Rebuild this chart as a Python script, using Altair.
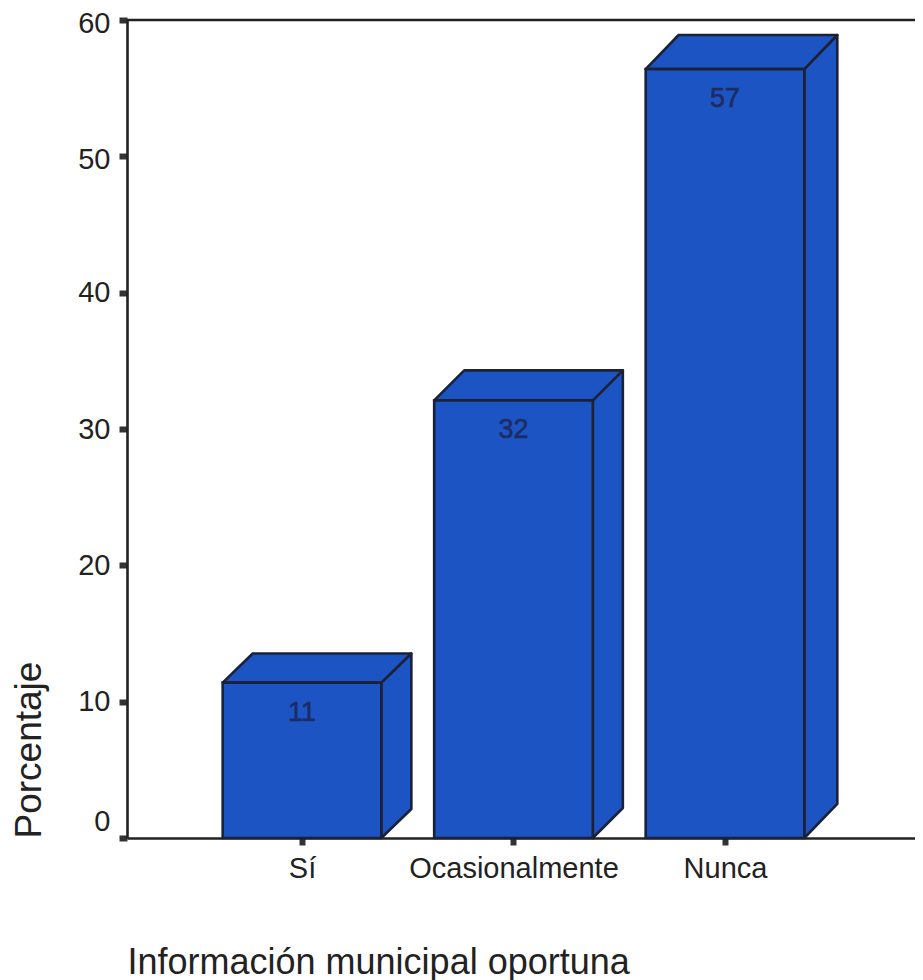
import altair as alt
import pandas as pd

categories = ["Sí", "Ocasionalmente", "Nunca"]
positions = [1, 2, 3]
heights = [11.4, 32.1, 56.4]
labels = ["11", "32", "57"]
y_ticks = [0, 10, 20, 30, 40, 50, 60]

HALF = 0.375
DEPTHS_X = [0.142, 0.142, 0.156]
DEPTHS_Y = [2.13, 2.2, 2.5]
XMIN, XMAX = 0.1726, 3.8984
BLUE = "#1d54c4"
EDGE = "#1b2238"
INK = "#222222"
FONT = "Liberation Sans"

front = pd.DataFrame({
    "l": [p - HALF for p in positions],
    "r": [p + HALF for p in positions],
    "base": [0, 0, 0],
    "h": heights,
})

faces = []
for p, h, dx, dy in zip(positions, heights, DEPTHS_X, DEPTHS_Y):
    l, r = p - HALF, p + HALF
    faces.append(pd.DataFrame({"x": [r, r + dx], "lo": [0, dy], "hi": [h, h + dy]}))
    faces.append(pd.DataFrame({
        "x": [l, l + dx, r, r + dx],
        "lo": [h, h, h, h + dy],
        "hi": [h, h + dy, h + dy, h + dy],
    }))
text_df = pd.DataFrame({"x": positions, "y": heights, "t": labels})
frame = pd.DataFrame({"x": [XMIN], "x2": [XMAX], "y": [60]})

label_expr = "datum.value === 1 ? 'Sí' : datum.value === 2 ? 'Ocasionalmente' : 'Nunca'"
x_scale = alt.Scale(domain=[XMIN, XMAX], nice=False, zero=False)
y_scale = alt.Scale(domain=[0, 60], nice=False)

x_axis = alt.Axis(
    values=positions, labelExpr=label_expr, grid=False, title="Información municipal oportuna",
    titleFont=FONT, titleFontSize=36, titleFontWeight="normal", titleColor=INK,
    titleX=0, titleY=135, titleAlign="left", titleBaseline="alphabetic",
    labelFont=FONT, labelFontSize=29, labelColor=INK, labelPadding=9, labelOverlap=False,
    labelLimit=400, labelFlush=False, tickSize=7, tickWidth=6, tickColor="#333333",
    domainColor=INK, domainWidth=2.6,
)
y_axis = alt.Axis(
    values=y_ticks, grid=False, title="Porcentaje",
    titleFont=FONT, titleFontSize=37, titleFontWeight="normal", titleColor=INK,
    titleAngle=270, titleX=-87, titleY=818, titleAlign="left", titleBaseline="alphabetic",
    labelFont=FONT, labelFontSize=29, labelColor=INK, labelPadding=9,
    labelOffset=alt.expr("datum.value === 0 ? -17 : datum.value >= 50 ? 3 : 0"),
    tickSize=8, tickWidth=6, tickColor="#333333", domainColor=INK, domainWidth=2.6,
)

axes = alt.Chart(text_df).mark_point(opacity=0).encode(
    x=alt.X("x:Q", scale=x_scale, axis=x_axis),
    y=alt.Y("y:Q", scale=y_scale, axis=y_axis),
)
area_layers = [
    alt.Chart(df).mark_area(
        color=BLUE, stroke=EDGE, strokeWidth=2.6, strokeJoin="round", orient="vertical"
    ).encode(
        x=alt.X("x:Q", scale=x_scale),
        y=alt.Y("lo:Q", scale=y_scale),
        y2="hi:Q",
    )
    for df in faces
]
fronts = alt.Chart(front).mark_rect(color=BLUE, stroke=EDGE, strokeWidth=2.6).encode(
    x=alt.X("l:Q", scale=x_scale), x2="r:Q",
    y=alt.Y("base:Q", scale=y_scale), y2="h:Q",
)
texts = alt.Chart(text_df).mark_text(
    font=FONT, fontSize=27, color="#1d2c62", stroke="#1d2c62", strokeWidth=0.6, dy=30
).encode(x=alt.X("x:Q", scale=x_scale), y=alt.Y("y:Q", scale=y_scale), text="t:N")
top_line = alt.Chart(frame).mark_rule(color=INK, strokeWidth=2.6).encode(
    x=alt.X("x:Q", scale=x_scale), x2="x2:Q", y=alt.Y("y:Q", scale=y_scale),
)

chart = (
    alt.layer(axes, *area_layers, fronts, texts, top_line)
    .properties(
        width=788, height=818,
        background="#ffffff",
        padding={"left": 119, "top": 12, "right": 0, "bottom": 145},
        autosize=alt.AutoSizeParams(type="none"),
    )
    .configure_view(stroke=None)
)
chart.save("out.html", embed_options={"renderer": "svg", "actions": False})
